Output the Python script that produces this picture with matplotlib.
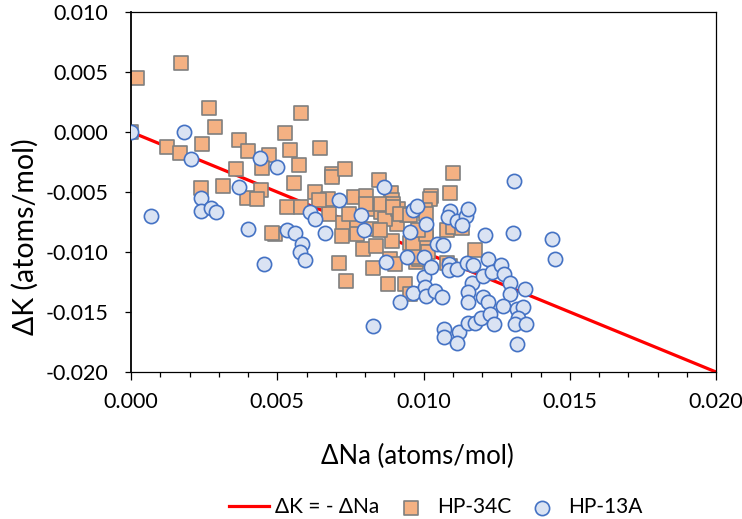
import matplotlib
matplotlib.use("Agg")
import matplotlib.pyplot as plt
from matplotlib.ticker import MultipleLocator, FormatStrFormatter

plt.rcParams['font.family'] = ['Lato', 'DejaVu Sans']

# ---- data ----
line_x = [0.0, 0.020]
line_y = [0.0, -0.020]

hp34c_x = [0.00022, 0.00172, 0.0, 0.00266, 0.00286, 0.00580, 0.00123, 0.00169, 0.00243, 0.00368,
           0.00400, 0.00472, 0.00527, 0.00543, 0.00646, 0.00575, 0.00360, 0.00448, 0.00557, 0.00688,
           0.00686, 0.00733, 0.00240, 0.00314, 0.00445, 0.00398, 0.00430, 0.00630, 0.00762, 0.00802,
           0.00848, 0.00888, 0.01025, 0.01091, 0.01102, 0.00535, 0.00580, 0.00491, 0.00483, 0.00676,
           0.00725, 0.00722, 0.00712, 0.00736, 0.00794, 0.00836, 0.00892, 0.00885, 0.00828, 0.00880,
           0.00937, 0.00954, 0.00954, 0.00975, 0.01079, 0.01079, 0.01102, 0.01130, 0.01176, 0.00908,
           0.01010, 0.01016, 0.00828, 0.00855, 0.00868, 0.00891, 0.00914, 0.00943, 0.01022, 0.01005,
           0.00805, 0.00856, 0.00896, 0.00965, 0.00983, 0.01007, 0.01089, 0.00674, 0.00644, 0.00897,
           0.00920, 0.00903, 0.00954, 0.01010, 0.00982, 0.00965, 0.00817, 0.00851, 0.00771, 0.00771,
           0.00746]
hp34c_y = [0.00449, 0.00573, 0.0, 0.00196, 0.00045, 0.00160, -0.00121, -0.00179, -0.00103, -0.00070,
           -0.00160, -0.00192, -0.00009, -0.00150, -0.00135, -0.00278, -0.00307, -0.00304, -0.00424, -0.00352,
           -0.00375, -0.00308, -0.00465, -0.00448, -0.00487, -0.00546, -0.00560, -0.00503, -0.00545, -0.00535,
           -0.00401, -0.00510, -0.00530, -0.00510, -0.00345, -0.00622, -0.00624, -0.00853, -0.00840, -0.00680,
           -0.00760, -0.00870, -0.01095, -0.01240, -0.00975, -0.00950, -0.00905, -0.01056, -0.01135, -0.01265,
           -0.01265, -0.01349, -0.00925, -0.01084, -0.01090, -0.00815, -0.00790, -0.00800, -0.00985, -0.00764,
           -0.00882, -0.01000, -0.00638, -0.00670, -0.00722, -0.00569, -0.00638, -0.00694, -0.00555, -0.00652,
           -0.00600, -0.00600, -0.00600, -0.00936, -0.01061, -0.00853, -0.01116, -0.00562, -0.00569, -0.00624,
           -0.00680, -0.01098, -0.00694, -0.00680, -0.00819, -0.01042, -0.00805, -0.00819, -0.00750, -0.00847,
           -0.00680]

hp13a_x = [0.0, 0.00180, 0.00204, 0.00068, 0.00241, 0.00241, 0.00272, 0.00289, 0.00369, 0.00399,
           0.00442, 0.00499, 0.00453, 0.00533, 0.00561, 0.00584, 0.00578, 0.00595, 0.00613, 0.00629,
           0.00663, 0.00710, 0.00785, 0.00795, 0.00866, 0.00872, 0.00828, 0.00918, 0.00944, 0.00953,
           0.00965, 0.00978, 0.00964, 0.01003, 0.01007, 0.01002, 0.01005, 0.01010, 0.01026, 0.01047,
           0.01068, 0.01039, 0.01064, 0.01070, 0.01070, 0.01091, 0.01085, 0.01116, 0.01088, 0.01087,
           0.01114, 0.01145, 0.01153, 0.01133, 0.01120, 0.01114, 0.01148, 0.01170, 0.01165, 0.01153,
           0.01153, 0.01153, 0.01176, 0.01211, 0.01222, 0.01205, 0.01233, 0.01205, 0.01222, 0.01195,
           0.01227, 0.01242, 0.01266, 0.01275, 0.01296, 0.01297, 0.01273, 0.01319, 0.01340, 0.01347,
           0.01324, 0.01313, 0.01350, 0.01319, 0.01308, 0.01305, 0.01441, 0.01451]
hp13a_y = [0.0, 0.0, -0.00225, -0.00698, -0.00550, -0.00660, -0.00630, -0.00670, -0.00460, -0.00810,
           -0.00219, -0.00291, -0.01098, -0.00820, -0.00845, -0.00936, -0.01000, -0.01068, -0.00665, -0.00721,
           -0.00841, -0.00564, -0.00693, -0.00813, -0.00458, -0.01083, -0.01616, -0.01417, -0.01040, -0.00833,
           -0.00647, -0.00618, -0.01340, -0.01040, -0.00768, -0.01206, -0.01290, -0.01365, -0.01122, -0.00930,
           -0.00945, -0.01325, -0.01377, -0.01640, -0.01710, -0.00660, -0.00709, -0.00738, -0.01100, -0.01150,
           -0.01143, -0.00702, -0.00640, -0.00778, -0.01670, -0.01762, -0.01090, -0.01112, -0.01260, -0.01335,
           -0.01419, -0.01590, -0.01595, -0.00860, -0.01058, -0.01196, -0.01168, -0.01377, -0.01419, -0.01548,
           -0.01516, -0.01600, -0.01112, -0.01185, -0.01255, -0.01352, -0.01446, -0.01475, -0.01462, -0.01307,
           -0.01550, -0.01600, -0.01600, -0.01766, -0.00406, -0.00842, -0.00891, -0.01062]

x_ticks = [0.000, 0.005, 0.010, 0.015, 0.020]
y_ticks = [0.010, 0.005, 0.000, -0.005, -0.010, -0.015, -0.020]

# ---- figure ----
fig = plt.figure(figsize=(7.42, 5.19), dpi=100)
ax = fig.add_axes([131 / 742, 1 - 372 / 519, 585 / 742, 360 / 519])

ax.plot(line_x, line_y, color='#FF0000', lw=2.3, zorder=1, label='ΔK = - ΔNa')
ax.scatter(hp34c_x, hp34c_y, marker='s', s=90, facecolor='#F4B183', edgecolor='#7F7F7F',
           linewidths=1.2, zorder=2, label='HP-34C')
ax.scatter(hp13a_x, hp13a_y, marker='o', s=105, facecolor='#DAE3F3', edgecolor='#4472C4',
           linewidths=1.2, zorder=3, label='HP-13A')

ax.set_xlim(0.0, 0.020)
ax.set_ylim(-0.020, 0.010)
ax.set_xticks(x_ticks)
ax.set_yticks(y_ticks)
ax.xaxis.set_major_formatter(FormatStrFormatter('%.3f'))
ax.yaxis.set_major_formatter(FormatStrFormatter('%.3f'))
ax.xaxis.set_minor_locator(MultipleLocator(0.001))

ax.tick_params(axis='x', which='major', direction='out', length=5.5, width=0.9, pad=9, labelsize=15.5)
ax.tick_params(axis='x', which='minor', direction='out', length=3.8, width=0.9)
ax.tick_params(axis='y', which='major', direction='out', length=4.5, width=0.9, pad=12, labelsize=15.5)
ax.tick_params(axis='y', which='minor', left=False)
for sp in ax.spines.values():
    sp.set_linewidth(0.9)
    sp.set_color('black')
ax.spines['left'].set_linewidth(1.3)

ax.set_xlabel('ΔNa (atoms/mol)', fontsize=18.5)
ax.set_ylabel('ΔK (atoms/mol)', fontsize=20.5)
ax.xaxis.set_label_coords(0.49, -0.236)
ax.yaxis.set_label_coords(-0.181, 0.375)
ax.xaxis.label.set_va('center')
ax.yaxis.label.set_va('center')

handles, labels = ax.get_legend_handles_labels()
fig.legend(handles, labels, loc='center', bbox_to_anchor=(436 / 742, 1 - 507 / 519), ncol=3,
           frameon=False, fontsize=15, handlelength=1.9, handletextpad=0.3, columnspacing=0.55,
           markerscale=1.0)

fig.savefig('out.png', dpi=100)
